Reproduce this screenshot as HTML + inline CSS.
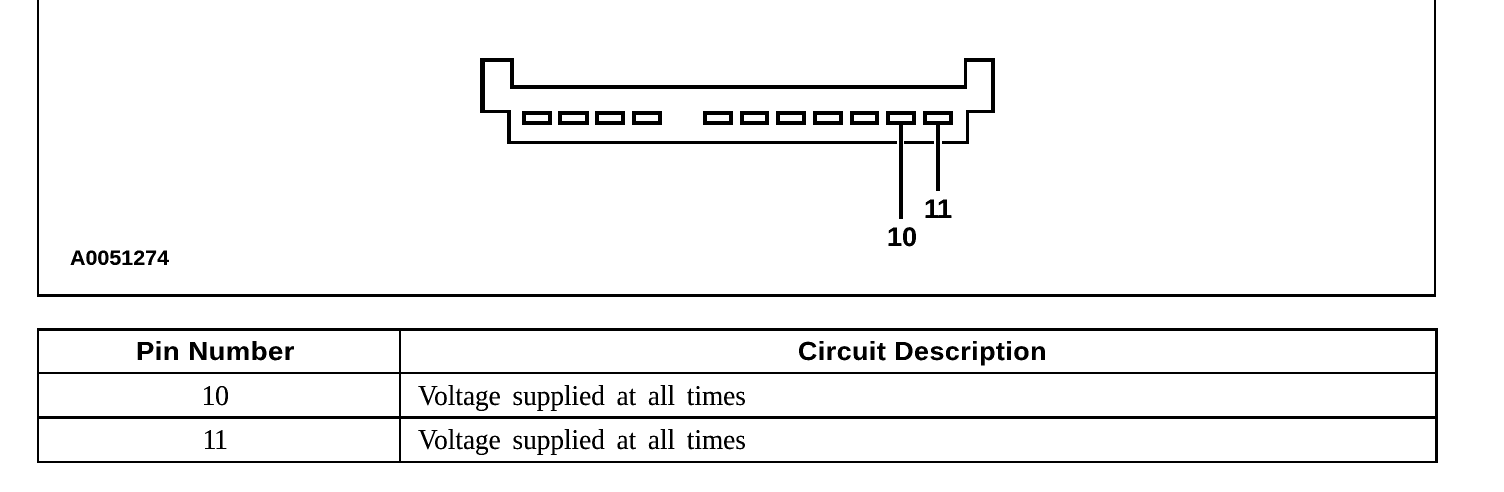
<!DOCTYPE html>
<html>
<head>
<meta charset="utf-8">
<style>
html,body{margin:0;padding:0;background:#fff;width:1504px;height:492px;overflow:hidden}
svg{display:block}
.sb{font-family:"Liberation Sans",sans-serif;font-weight:bold;fill:#000}
.sr{font-family:"Liberation Serif",serif;fill:#000}
</style>
</head>
<body>
<svg width="1504" height="492" viewBox="0 0 1504 492" xmlns="http://www.w3.org/2000/svg">
<defs>
<filter id="t" x="0" y="0" width="100%" height="100%" color-interpolation-filters="sRGB">
<feComponentTransfer><feFuncA type="linear" slope="2.4" intercept="-0.3"/></feComponentTransfer>
</filter>
</defs>
<rect width="1504" height="492" fill="#fff"/>
<g fill="#000" shape-rendering="crispEdges">
<!-- top frame -->
<rect x="37" y="0" width="2" height="297"/>
<rect x="1434" y="0" width="2" height="297"/>
<rect x="37" y="294" width="1399" height="3"/>
<!-- table -->
<rect x="37" y="328" width="1401" height="3"/>
<rect x="37" y="372" width="1401" height="2"/>
<rect x="37" y="416" width="1401" height="3"/>
<rect x="37" y="461" width="1401" height="2"/>
<rect x="37" y="328" width="2" height="135"/>
<rect x="399" y="328" width="2" height="135"/>
<rect x="1435" y="328" width="3" height="135"/>
<!-- connector outline -->
<rect x="480" y="58" width="33" height="4"/>
<rect x="480" y="58" width="5" height="55"/>
<rect x="510" y="58" width="4" height="31"/>
<rect x="510" y="85" width="457" height="4"/>
<rect x="964" y="58" width="31" height="4"/>
<rect x="964" y="58" width="3" height="31"/>
<rect x="991" y="58" width="4" height="55"/>
<rect x="480" y="110" width="31" height="3"/>
<rect x="966" y="110" width="29" height="3"/>
<rect x="507" y="110" width="4" height="34"/>
<rect x="966" y="110" width="3" height="34"/>
<rect x="507" y="141" width="390" height="3"/>
<rect x="904" y="141" width="30" height="3"/>
<rect x="942" y="141" width="27" height="3"/>
<!-- leaders -->
<rect x="899" y="124" width="4" height="95"/>
<rect x="936" y="124" width="4" height="67"/>
</g>
<g fill="none" stroke="#000" stroke-width="4" shape-rendering="crispEdges">
<rect x="524" y="113" width="26" height="10"/>
<rect x="560" y="113" width="27" height="10"/>
<rect x="597" y="113" width="26" height="10"/>
<rect x="634" y="113" width="26" height="10"/>
<rect x="705" y="113" width="26" height="10"/>
<rect x="742" y="113" width="25" height="10"/>
<rect x="778" y="113" width="26" height="10"/>
<rect x="815" y="113" width="26" height="10"/>
<rect x="852" y="113" width="25" height="10"/>
<rect x="888" y="113" width="26" height="10"/>
<rect x="925" y="113" width="26" height="10"/>
</g>
<g filter="url(#t)">
<text class="sb" x="924 937" y="218" font-size="27">11</text>
<text class="sb" x="887 902" y="246" font-size="27">10</text>
<text class="sb" x="70" y="265" font-size="21" textLength="99" lengthAdjust="spacingAndGlyphs">A0051274</text>
<text class="sb" x="136" y="360" font-size="26" letter-spacing="0.5" textLength="159" lengthAdjust="spacingAndGlyphs">Pin Number</text>
<text class="sb" x="798" y="360" font-size="26" letter-spacing="0.5" textLength="249" lengthAdjust="spacingAndGlyphs">Circuit Description</text>
<text class="sr" x="201.5 215" y="405" font-size="28">10</text>
<text class="sr" x="202.5 214" y="449" font-size="28">11</text>
<text class="sr" transform="translate(418,405) scale(.974,1)" font-size="28" word-spacing="5">Voltage supplied at all times</text>
<text class="sr" transform="translate(418,449) scale(.974,1)" font-size="28" word-spacing="5">Voltage supplied at all times</text>
</g>
</svg>
</body>
</html>
